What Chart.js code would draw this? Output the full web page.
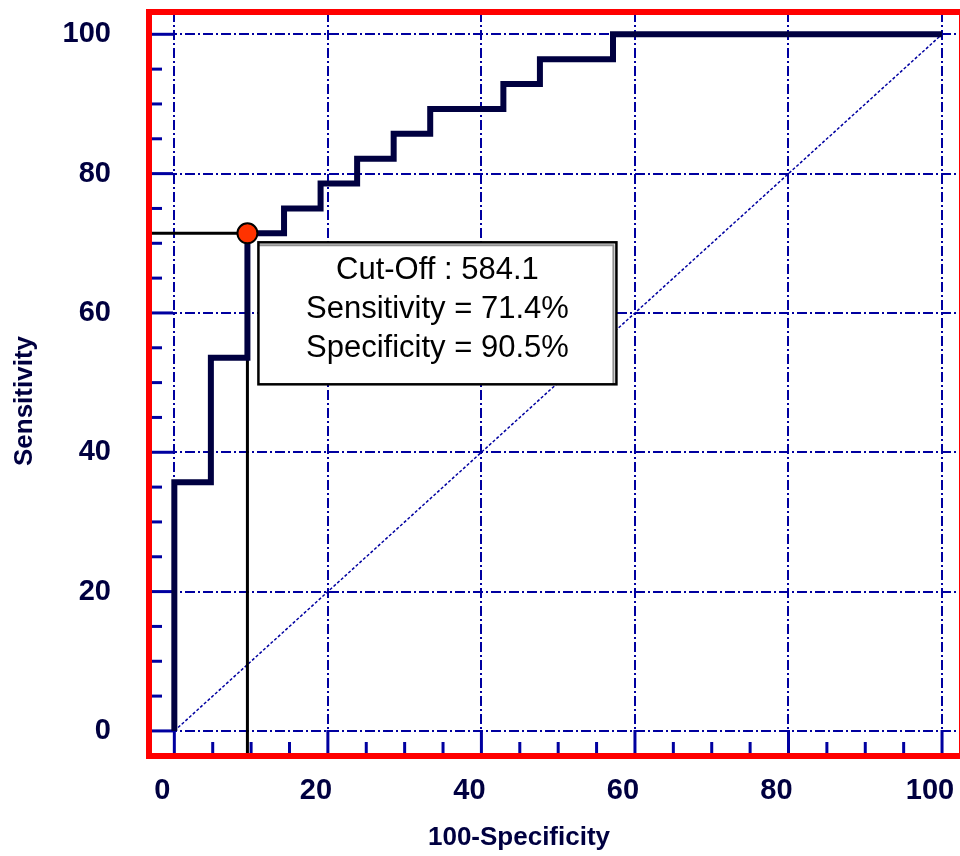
<!DOCTYPE html>
<html>
<head>
<meta charset="utf-8">
<script src="https://cdn.jsdelivr.net/npm/chart.js@4.4.1/dist/chart.umd.min.js"></script>
<style>
  html, body { margin: 0; padding: 0; background: #fff; overflow: hidden; }
  canvas { display: block; }
</style>
</head>
<body>
<canvas id="myChart" width="970" height="856"></canvas>
<script>
// ROC curve points (100-Specificity, Sensitivity)
const fpr  = [0, 0, 4.76, 9.52, 14.29, 19.05, 23.81, 28.57, 33.33, 42.86, 47.62, 57.14, 100];
const sens = [0, 35.71, 53.57, 71.43, 75.0, 78.57, 82.14, 85.71, 89.29, 92.86, 96.43, 100, 100];
// reference diagonal
const diagX = [0, 100];
const diagY = [0, 100];
// optimal cut-off
const cutFpr = 9.52;
const cutSens = 71.43;
const boxLines = ['Cut-Off : 584.1', 'Sensitivity = 71.4%', 'Specificity = 90.5%'];
const labelTicks = [0, 20, 40, 60, 80, 100];

const X_MIN = -3.3, X_MAX = 102.6;
const Y_MIN = -3.6, Y_MAX = 103.2;

const NAVY = '#000040';
const GRID = '#0000a0';
const FONT = '"Liberation Sans", Arial, sans-serif';

const toXY = (xs, ys) => xs.map((x, i) => ({x: x, y: ys[i]}));

// inward tick marks, titles, red frame, cut-off box
const decor = {
  id: 'decor',
  beforeDatasetsDraw(chart) {
    const {ctx, chartArea: a, scales: {x, y}} = chart;
    ctx.save();
    ctx.strokeStyle = GRID;
    ctx.lineWidth = 3;
    x.ticks.forEach(t => {
      const px = x.getPixelForValue(t.value);
      const len = t.value % 20 === 0 ? 26 : 14;
      ctx.beginPath(); ctx.moveTo(px, a.bottom); ctx.lineTo(px, a.bottom - len); ctx.stroke();
    });
    y.ticks.forEach(t => {
      const py = y.getPixelForValue(t.value);
      const len = t.value % 20 === 0 ? 24 : 13;
      ctx.beginPath(); ctx.moveTo(a.left, py); ctx.lineTo(a.left + len, py); ctx.stroke();
    });
    ctx.restore();
  },
  afterDatasetsDraw(chart) {
    const {ctx, chartArea: a, scales: {x, y}} = chart;
    ctx.save();
    // cut-off box
    const cx = x.getPixelForValue(cutFpr), cy = y.getPixelForValue(cutSens);
    const bx = cx + 11, by = cy + 9, bw = 358, bh = 142;
    ctx.fillStyle = '#fff';
    ctx.fillRect(bx, by, bw, bh);
    ctx.strokeStyle = '#909090';
    ctx.lineWidth = 2;
    ctx.beginPath(); ctx.moveTo(bx, by + 3); ctx.lineTo(bx + bw - 3, by + 3); ctx.lineTo(bx + bw - 3, by + bh); ctx.stroke();
    ctx.strokeStyle = '#000';
    ctx.lineWidth = 2.5;
    ctx.strokeRect(bx, by, bw, bh);
    ctx.fillStyle = '#000';
    ctx.font = '31px ' + FONT;
    ctx.textAlign = 'center';
    ctx.textBaseline = 'alphabetic';
    boxLines.forEach((s, i) => ctx.fillText(s, bx + bw / 2, by + 37 + i * 39));

    // red frame
    ctx.strokeStyle = '#ff0000';
    ctx.lineWidth = 6;
    ctx.strokeRect(a.left, a.top, a.right - a.left, a.bottom - a.top);

    // axis titles
    ctx.fillStyle = NAVY;
    ctx.font = 'bold 26px ' + FONT;
    ctx.textAlign = 'center';
    ctx.textBaseline = 'middle';
    ctx.fillText('100-Specificity', a.left + 370, a.bottom + 82);
    ctx.translate(25, (a.top + a.bottom) / 2 + 17);
    ctx.rotate(-Math.PI / 2);
    ctx.fillText('Sensitivity', 0, 0);
    ctx.restore();
  }
};

const gridColor = c => (c.tick && labelTicks.includes(c.tick.value)) ? GRID : 'rgba(0,0,0,0)';
const tickLabel = v => labelTicks.includes(v) ? String(v) : '';

const config = {
  type: 'scatter',
  data: {
    datasets: [
      {
        label: 'Cut-off point',
        data: [{x: cutFpr, y: cutSens}],
        pointRadius: 10,
        pointBackgroundColor: '#ff3300',
        pointBorderColor: '#000',
        pointBorderWidth: 2,
        showLine: false
      },
      {
        label: 'ROC',
        data: toXY(fpr, sens),
        showLine: true,
        stepped: 'before',
        borderColor: NAVY,
        borderWidth: 6,
        pointRadius: 0,
        fill: false
      },
      {
        label: 'Cut-off lines',
        data: [{x: X_MIN, y: cutSens}, {x: cutFpr, y: cutSens}, {x: cutFpr, y: Y_MIN}],
        showLine: true,
        borderColor: '#000',
        borderWidth: 3,
        pointRadius: 0
      },
      {
        label: 'Diagonal',
        data: toXY(diagX, diagY),
        showLine: true,
        borderColor: GRID,
        borderWidth: 1.5,
        borderDash: [3, 2],
        pointRadius: 0
      }
    ]
  },
  options: {
    responsive: false,
    animation: false,
    layout: { autoPadding: false, padding: { top: 12, right: 8, left: 0, bottom: 0 } },
    plugins: {
      legend: { display: false },
      tooltip: { enabled: false }
    },
    scales: {
      x: {
        type: 'linear',
        min: X_MIN,
        max: X_MAX,
        afterFit: s => { s.height = 100; s.paddingLeft = 0; s.paddingRight = 0; },
        border: { display: false, dash: [10, 3, 2, 3] },
        grid: { color: gridColor, lineWidth: 2, drawTicks: false },
        ticks: {
          stepSize: 5,
          includeBounds: false,
          autoSkip: false,
          maxRotation: 0,
          minRotation: 0,
          padding: 18,
          labelOffset: -12,
          color: NAVY,
          font: { family: FONT, size: 29, weight: 'bold' },
          callback: tickLabel
        }
      },
      y: {
        type: 'linear',
        min: Y_MIN,
        max: Y_MAX,
        afterFit: s => { s.width = 149; s.paddingTop = 0; s.paddingBottom = 0; },
        border: { display: false, dash: [10, 3, 2, 3] },
        grid: { color: gridColor, lineWidth: 2, drawTicks: false },
        ticks: {
          stepSize: 5,
          includeBounds: false,
          autoSkip: false,
          padding: 38,
          color: NAVY,
          font: { family: FONT, size: 29, weight: 'bold' },
          callback: tickLabel
        }
      }
    }
  },
  plugins: [decor]
};

const myChart = new Chart(document.getElementById('myChart'), config);
</script>
</body>
</html>
